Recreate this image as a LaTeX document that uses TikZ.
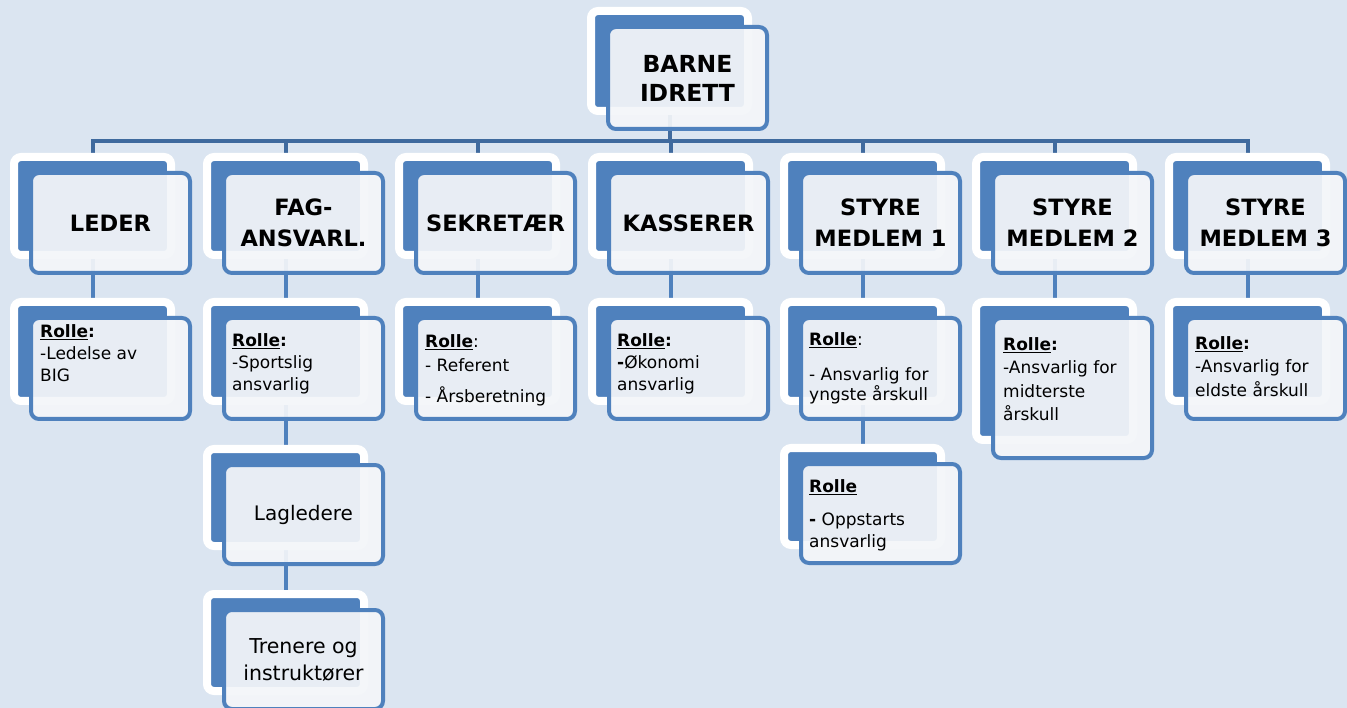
\documentclass[tikz,border=0pt]{standalone}
\usepackage{fontspec}
\setmainfont{DejaVu Sans}
\usetikzlibrary{calc,shadows}
\definecolor{bgc}{HTML}{DBE5F1}
\definecolor{bluec}{HTML}{4F81BD}
\definecolor{frontc}{HTML}{F4F6F9}
\definecolor{linec}{HTML}{3F6A9E}
\pgfdeclarelayer{lines}
\pgfsetlayers{lines,main}
\tikzset{
  backbox/.style={draw=white, line width=8pt, fill=bluec, rounded corners=7pt,
    minimum width=157pt, inner sep=0pt,
    drop shadow={shadow xshift=-1.5pt, shadow yshift=-3pt, opacity=0.12}},
  frontbox/.style={draw=bluec, line width=4pt, fill=frontc, fill opacity=0.93,
    text opacity=1, rounded corners=8pt, minimum width=159pt, inner sep=0pt, align=center},
  ltext/.style={font=\fontsize{22.5}{31}\selectfont\bfseries},
  rtext/.style={anchor=north west, inner sep=0pt, align=left, font=\fontsize{17}{22}\selectfont},
  conn/.style={draw=bluec, line width=4pt},
  bus/.style={draw=linec, line width=4pt},
}
% name, x, y, h, style, text
\newcommand\obox[6]{%
  \node[backbox, minimum height={#4-8}] (#1-b) at ({#2+82.5},{#3+#4/2}) {};
  \node[frontbox, minimum height={#4-6}, #5] (#1) at ({#2+19+81.5},{#3+18+(#4-2)/2}) {#6};
}
\newcommand\rl{\textbf{\underline{Rolle}}}
\begin{document}
\begin{tikzpicture}[x=1pt,y=-1pt]
\useasboundingbox (0,0) rectangle (1347,708);
\begin{pgfonlayer}{lines}
\fill[bgc] (0,0) rectangle (1347,708);
\end{pgfonlayer}
% top
\obox{top}{587}{7}{108}{font=\fontsize{23.5}{29}\selectfont\bfseries}{BARNE\\IDRETT}
% level 1
\obox{leder}{10}{153}{106}{ltext}{LEDER}
\obox{fag}{203}{153}{106}{ltext}{FAG-\\ANSVARL.}
\obox{sek}{395}{153}{106}{ltext}{SEKRETÆR}
\obox{kas}{588}{153}{106}{ltext}{KASSERER}
\obox{s1}{780}{153}{106}{ltext}{STYRE\\MEDLEM 1}
\obox{s2}{972}{153}{106}{ltext}{STYRE\\MEDLEM 2}
\obox{s3}{1165}{153}{106}{ltext}{STYRE\\MEDLEM 3}
% role boxes
\obox{lederR}{10}{298}{107}{}{}
\obox{fagR}{203}{298}{107}{}{}
\obox{sekR}{395}{298}{107}{}{}
\obox{kasR}{588}{298}{107}{}{}
\obox{s1R}{780}{298}{107}{}{}
\obox{s2R}{972}{298}{146}{}{}
\obox{s3R}{1165}{298}{107}{}{}
\obox{lag}{203}{445}{105}{font=\fontsize{20}{27}\selectfont}{Lagledere}
\obox{tren}{203}{590}{105}{font=\fontsize{20.5}{27}\selectfont}{Trenere og\\instruktører}
\obox{s1sub}{780}{444}{105}{}{}
% role texts
\node[rtext] (lederR-t) at (40,324) {\rl\textbf{:}\\-Ledelse av\\BIG};
\node[rtext] (fagR-t) at (232,333) {\rl\textbf{:}\\-Sportslig\\ansvarlig};
\node[rtext] (sekR-t) at (425,334) {\rl:\\[2pt]- Referent\\[9pt]- Årsberetning};
\node[rtext] (kasR-t) at (617,333) {\rl\textbf{:}\\\textbf{-}Økonomi\\ansvarlig};
\node[rtext] (s1R-t) at (809,332) {\rl:\\[13pt]- Ansvarlig for\\[-2pt]yngste årskull};
\node[rtext] (s2R-t) at (1003,337) {\rl\textbf{:}\\[1.5pt]-Ansvarlig for\\[1.5pt]midterste\\[1.5pt]årskull};
\node[rtext] (s3R-t) at (1195,336) {\rl\textbf{:}\\[1.5pt]-Ansvarlig for\\[1.5pt]eldste årskull};
\node[rtext] (s1sub-t) at (809,479) {\rl\\[11pt]\textbf{-} Oppstarts\\ansvarlig};
% connectors
\coordinate (busy) at (0,141);
\begin{pgfonlayer}{lines}
\draw[bus] (top-b.south) -- (top-b.south |- busy);
\draw[bus] (leder-b.north) -- (leder-b.north |- busy) -- (s3-b.north |- busy) -- (s3-b.north);
\foreach \n in {fag,sek,kas,s1,s2} \draw[bus] (\n-b.north) -- (\n-b.north |- busy);
\foreach \a/\b in {leder/lederR,fag/fagR,sek/sekR,kas/kasR,s1/s1R,s2/s2R,s3/s3R,fagR/lag,lag/tren,s1R/s1sub}
  \draw[conn] (\a-b.south) -- (\b-b.north);
\end{pgfonlayer}
\end{tikzpicture}
\end{document}
